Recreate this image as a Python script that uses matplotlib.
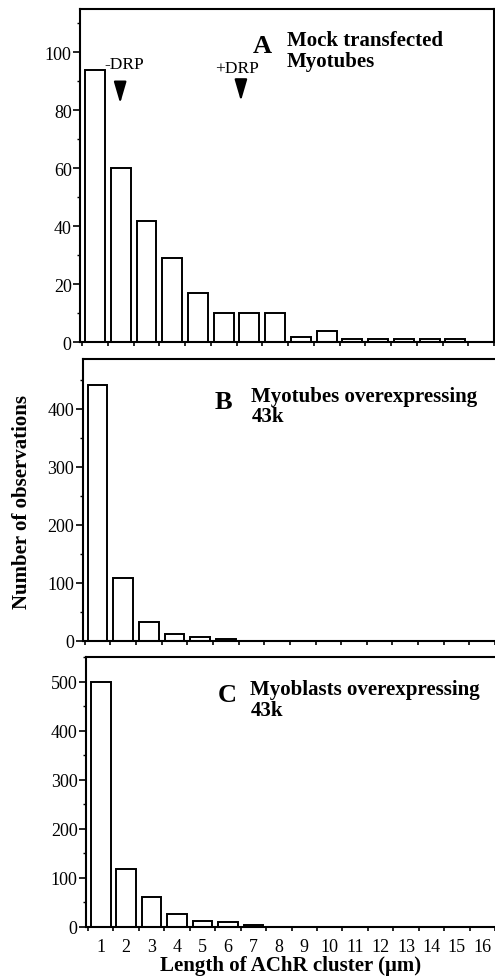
import matplotlib
matplotlib.use('Agg')
import matplotlib.pyplot as plt
from matplotlib.ticker import MultipleLocator
import numpy as np

plt.rcParams['font.family'] = ['Liberation Serif', 'DejaVu Serif']

lengths = list(range(1, 17))
mock_counts = [94, 60, 42, 29, 17, 10, 10, 10, 2, 4, 1, 1, 1, 1, 1, 0]
myotube_counts = [441, 108, 33, 12, 7, 3, 0, 0, 0, 0, 0, 0, 0, 0, 0, 0]
myoblast_counts = [500, 118, 61, 25, 12, 9, 3, 0, 0, 0, 0, 0, 0, 0, 0, 0]

W, H = 495, 979
fig = plt.figure(figsize=(W / 100, H / 100), dpi=100)


def make_ax(left, right, top, bottom):
	return fig.add_axes([left / W, 1 - bottom / H, (right - left) / W, (bottom - top) / H])


def style(ax, counts, ymax, major, minor, xmax, right_spine):
	ax.bar(lengths, counts, width=0.77, color='white', edgecolor='black', linewidth=1.4)
	ax.set_xlim(0.42, xmax)
	ax.set_ylim(0, ymax)
	ax.yaxis.set_major_locator(MultipleLocator(major))
	ax.yaxis.set_minor_locator(MultipleLocator(minor))
	ax.set_xticks(np.arange(0.5, 16.6, 1.0))
	ax.set_xticklabels([])
	for s in ['left', 'bottom', 'top']:
		ax.spines[s].set_linewidth(1.5)
	ax.spines['right'].set_visible(right_spine)
	ax.spines['right'].set_linewidth(1.5)
	ax.tick_params(axis='y', which='major', direction='out', length=5, width=1.2, labelsize=13, pad=1)
	ax.tick_params(axis='y', which='minor', direction='out', length=2.5, width=1.0)
	ax.tick_params(axis='x', which='major', direction='out', length=3, width=1.2)


# panel A
axA = make_ax(80, 494, 10, 343.3)
style(axA, mock_counts, 115, 20, 10, 16.4, True)
axA.text(7.49, 102.5, 'A', fontsize=19, fontweight='bold', ha='center', va='center')
axA.text(8.45, 100.6, 'Mock transfected\nMyotubes', fontsize=15, fontweight='bold',
	ha='left', va='center', linespacing=1.05)
axA.text(2.12, 96, '-DRP', fontsize=12.5, ha='center', va='center')
axA.text(6.52, 94.6, '+DRP', fontsize=12.5, ha='center', va='center')
for xa, y0, y1 in [(1.98, 90.5, 81.5), (6.67, 91.5, 82.3)]:
	axA.annotate('', xy=(xa, y1), xytext=(xa, y0),
		arrowprops=dict(arrowstyle='-|>,head_length=1.3,head_width=0.38', color='black', lw=1.5))

# panel B
axB = make_ax(82.7, 495, 360, 641.7)
style(axB, myotube_counts, 486, 100, 50, 16.34, False)
axB.text(5.91, 413, 'B', fontsize=19, fontweight='bold', ha='center', va='center')
axB.text(7.0, 405, 'Myotubes overexpressing\n43k', fontsize=15, fontweight='bold',
	ha='left', va='center', linespacing=1.05)
axB.set_ylabel('Number of observations', fontsize=15, fontweight='bold')
axB.yaxis.set_label_coords(-0.124, 0.496)

# panel C
axC = make_ax(86, 495, 658, 927.7)
style(axC, myoblast_counts, 550, 100, 50, 16.15, False)
axC.text(5.96, 474, 'C', fontsize=19, fontweight='bold', ha='center', va='center')
axC.text(6.88, 464, 'Myoblasts overexpressing\n43k', fontsize=15, fontweight='bold',
	ha='left', va='center', linespacing=1.05)
axC.set_xticks(lengths, minor=True)
axC.set_xticklabels([str(v) for v in lengths], minor=True)
axC.tick_params(axis='x', which='minor', length=0, labelsize=13, pad=8)
axC.set_xlabel('Length of AChR cluster (μm)', fontsize=15, fontweight='bold', labelpad=0)

fig.savefig('out.png', dpi=100)
